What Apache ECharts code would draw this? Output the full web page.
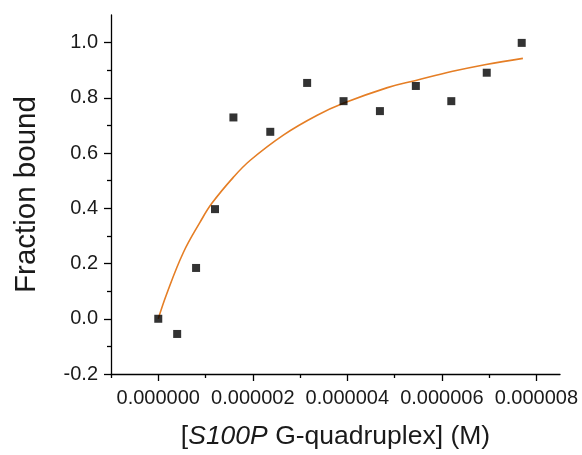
<!DOCTYPE html>
<html><head><meta charset="utf-8">
<script src="https://cdn.jsdelivr.net/npm/echarts@6/dist/echarts.min.js"></script>
<style>html,body{margin:0;padding:0;background:#fff}#c{width:582px;height:455px}</style>
</head><body><div id="c"></div>
<script>
// Measured data points
var concX = [0, 0.40e-6, 0.80e-6, 1.20e-6, 1.59e-6, 2.37e-6, 3.15e-6, 3.92e-6, 4.69e-6, 5.45e-6, 6.20e-6, 6.95e-6, 7.69e-6];
var fracY = [0.000, -0.055, 0.184, 0.397, 0.729, 0.677, 0.854, 0.788, 0.752, 0.843, 0.788, 0.891, 0.999];
// Fit curve
var fitX = [0, 0.178e-6, 0.531e-6, 0.885e-6, 1.134e-6, 1.592e-6, 1.947e-6, 2.654e-6, 3.363e-6, 3.928e-6, 4.849e-6, 5.450e-6, 6.229e-6, 6.936e-6, 7.715e-6];
var fitY = [0.000, 0.090, 0.240, 0.350, 0.418, 0.513, 0.574, 0.666, 0.737, 0.781, 0.837, 0.863, 0.896, 0.921, 0.943];
// Tick values
var xMajor = [0, 2e-6, 4e-6, 6e-6, 8e-6];
var xMinor = [-1e-6, 1e-6, 3e-6, 5e-6, 7e-6];
var yMajor = [-0.2, 0, 0.2, 0.4, 0.6, 0.8, 1.0];
var yMinor = [-0.1, 0.1, 0.3, 0.5, 0.7, 0.9];

var pts = concX.map(function(x, i){ return [x, fracY[i]]; });
var fit = fitX.map(function(x, i){ return [x, fitY[i]]; });
var FONT = 'Liberation Sans';
var TXT = '#1a1a1a';
var chart = echarts.init(document.getElementById('c'));
var xBase = {type:'value', min:-1e-6, max:8.5e-6, position:'bottom', splitLine:{show:false}};
var yBase = {type:'value', min:-0.2, max:1.1, position:'left', splitLine:{show:false}};
chart.setOption({
  animation:false,
  backgroundColor:'#fff',
  grid:{left:111, right:22, top:15, bottom:80, containLabel:false},
  xAxis:[
    Object.assign({}, xBase, {
      axisLine:{show:true, onZero:false, lineStyle:{color:'#000', width:1.3}},
      axisTick:{show:true, length:7, inside:false, customValues:xMajor, lineStyle:{color:'#000', width:1.3}},
      axisLabel:{show:true, customValues:xMajor, margin:14, color:TXT, fontFamily:FONT, fontSize:20,
        formatter:function(v){ return v.toFixed(6); }},
      name:'{b|[}{i|S100P}{b| G-quadruplex] (M)}', nameLocation:'middle', nameGap:49,
      nameTextStyle:{rich:{b:{fontFamily:FONT, fontSize:26.5, color:TXT}, i:{fontFamily:FONT, fontSize:26.5, fontStyle:'italic', color:TXT}}}
    }),
    Object.assign({}, xBase, {
      axisLine:{show:false, onZero:false},
      axisTick:{show:true, length:4, inside:false, customValues:xMinor, lineStyle:{color:'#000', width:1.3}},
      axisLabel:{show:false}
    })
  ],
  yAxis:[
    Object.assign({}, yBase, {
      axisLine:{show:true, onZero:false, lineStyle:{color:'#000', width:1.3}},
      axisTick:{show:true, length:7, inside:false, customValues:yMajor, lineStyle:{color:'#000', width:1.3}},
      axisLabel:{show:true, customValues:yMajor, margin:13, color:TXT, fontFamily:FONT, fontSize:20,
        formatter:function(v){ return v.toFixed(1); }},
      name:'Fraction bound', nameLocation:'middle', nameGap:69, nameRotate:90,
      nameTextStyle:{fontFamily:FONT, fontSize:29.5, color:TXT}
    }),
    Object.assign({}, yBase, {
      axisLine:{show:false, onZero:false},
      axisTick:{show:true, length:4, inside:false, customValues:yMinor, lineStyle:{color:'#000', width:1.3}},
      axisLabel:{show:false}
    })
  ],
  series:[
    {type:'line', data:fit, smooth:0.4, showSymbol:false, symbol:'none',
     lineStyle:{color:'#E57E25', width:1.6}, z:2},
    {type:'scatter', data:pts, symbol:'rect', symbolSize:8,
     itemStyle:{color:'#000'}, z:3}
  ]
});
</script></body></html>
